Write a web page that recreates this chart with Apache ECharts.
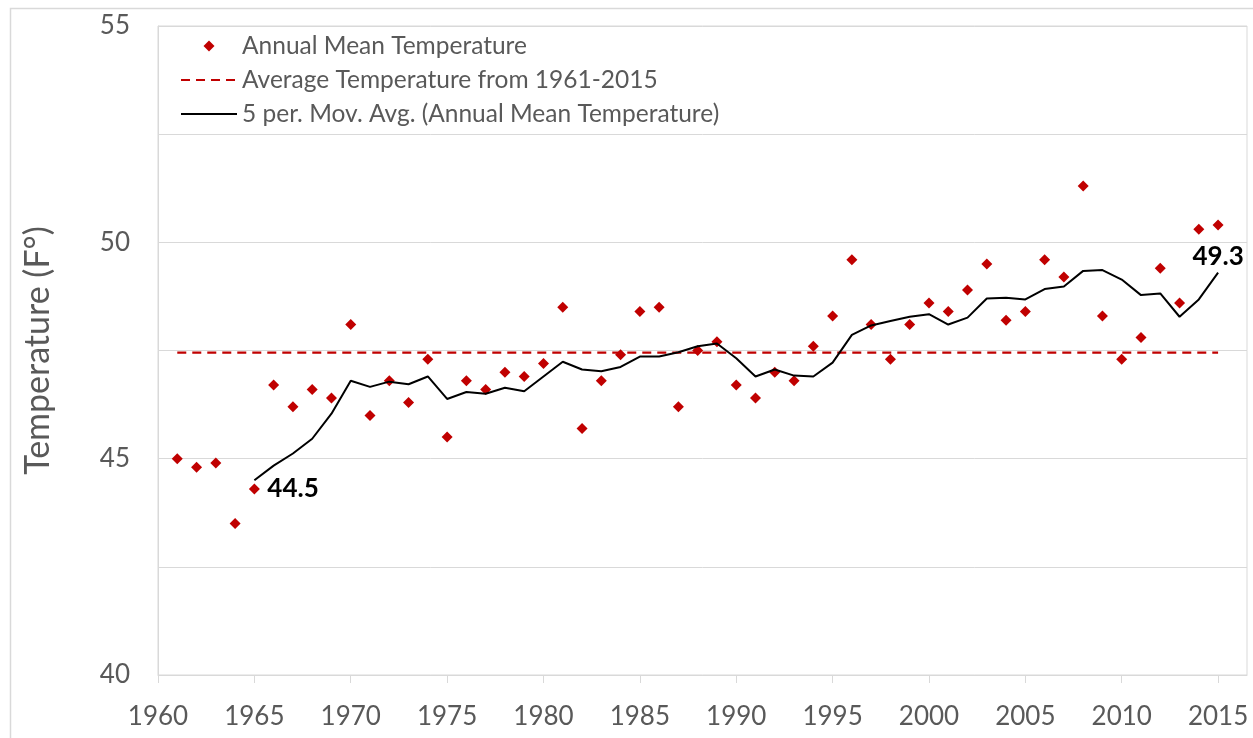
<!DOCTYPE html>
<html>
<head>
<meta charset="utf-8">
<title>Annual Mean Temperature</title>
<script src="https://cdn.jsdelivr.net/npm/echarts@6/dist/echarts.min.js"></script>
<style>
    html, body { margin: 0; padding: 0; background: #fff; }
    #chart { width: 1253px; height: 738px; }
</style>
</head>
<body>
<div id="chart"></div>
<script>
// 年份
const years = [
    1961, 1962, 1963, 1964, 1965, 1966, 1967, 1968, 1969, 1970,
    1971, 1972, 1973, 1974, 1975, 1976, 1977, 1978, 1979, 1980,
    1981, 1982, 1983, 1984, 1985, 1986, 1987, 1988, 1989, 1990,
    1991, 1992, 1993, 1994, 1995, 1996, 1997, 1998, 1999, 2000,
    2001, 2002, 2003, 2004, 2005, 2006, 2007, 2008, 2009, 2010,
    2011, 2012, 2013, 2014, 2015
];

// 年平均气温 (F)
const annualMean = [
    45.0, 44.8, 44.9, 43.5, 44.3, 46.7, 46.2, 46.6, 46.4, 48.1,
    46.0, 46.8, 46.3, 47.3, 45.5, 46.8, 46.6, 47.0, 46.9, 47.2,
    48.5, 45.7, 46.8, 47.4, 48.4, 48.5, 46.2, 47.5, 47.7, 46.7,
    46.4, 47.0, 46.8, 47.6, 48.3, 49.6, 48.1, 47.3, 48.1, 48.6,
    48.4, 48.9, 49.5, 48.2, 48.4, 49.6, 49.2, 51.3, 48.3, 47.3,
    47.8, 49.4, 48.6, 50.3, 50.4
];

// 5年移动平均
const movAvgYears = [
    1965, 1966, 1967, 1968, 1969, 1970, 1971, 1972, 1973, 1974,
    1975, 1976, 1977, 1978, 1979, 1980, 1981, 1982, 1983, 1984,
    1985, 1986, 1987, 1988, 1989, 1990, 1991, 1992, 1993, 1994,
    1995, 1996, 1997, 1998, 1999, 2000, 2001, 2002, 2003, 2004,
    2005, 2006, 2007, 2008, 2009, 2010, 2011, 2012, 2013, 2014,
    2015
];
const movAvg = [
    44.50, 44.84, 45.12, 45.46, 46.04, 46.80, 46.66, 46.78, 46.72, 46.90,
    46.38, 46.54, 46.50, 46.64, 46.56, 46.90, 47.24, 47.06, 47.02, 47.12,
    47.36, 47.36, 47.46, 47.60, 47.66, 47.32, 46.90, 47.06, 46.92, 46.90,
    47.22, 47.86, 48.08, 48.18, 48.28, 48.34, 48.10, 48.26, 48.70, 48.72,
    48.68, 48.92, 48.98, 49.34, 49.36, 49.14, 48.78, 48.82, 48.28, 48.68,
    49.30
];

// 1961-2015 平均值
const avgTemp = 47.45;
const avgSpan = [1961, 2015];

// 刻度
const xTicks = [1960, 1965, 1970, 1975, 1980, 1985, 1990, 1995, 2000, 2005, 2010, 2015];
const yLabels = [40, 45, 50, 55];

const GRAY = '#595959';
const LINE = '#d9d9d9';
const RED = '#c00000';
const FONT = 'Lato, "Open Sans", sans-serif';

const chart = echarts.init(document.getElementById('chart'));

const option = {
    animation: false,
    backgroundColor: '#fff',
    textStyle: { fontFamily: FONT },
    graphic: [{
        type: 'rect',
        silent: true,
        shape: { x: 10.5, y: 8.5, width: 1300, height: 800 },
        style: { fill: 'none', stroke: LINE, lineWidth: 1.5 }
    }],
    grid: {
        left: 158,
        top: 26,
        right: 6,
        bottom: 63,
        show: true,
        borderColor: LINE,
        borderWidth: 1
    },
    legend: {
        orient: 'vertical',
        left: 175,
        top: 24,
        itemWidth: 56,
        itemHeight: 11,
        itemGap: 0,
        textStyle: { color: GRAY, fontSize: 24.5, lineHeight: 34, fontFamily: FONT },
        data: [
            { name: 'Annual Mean Temperature', icon: 'path://M0,-5L5,0L0,5L-5,0Z' },
            { name: 'Average Temperature from 1961-2015', itemStyle: { opacity: 0 } },
            { name: '5 per. Mov. Avg. (Annual Mean Temperature)', itemStyle: { opacity: 0 } }
        ]
    },
    xAxis: {
        type: 'value',
        min: 1960,
        max: 2016.5,
        interval: 5,
        splitLine: { show: false },
        axisLine: { show: true, lineStyle: { color: LINE, width: 1 } },
        axisTick: { show: true, length: 8, customValues: xTicks, lineStyle: { color: LINE } },
        axisLabel: {
            customValues: xTicks,
            color: GRAY,
            fontSize: 26,
            margin: 29,
            formatter: v => String(v)
        }
    },
    yAxis: {
        type: 'value',
        min: 40,
        max: 55,
        interval: 2.5,
        name: 'Temperature (F°)',
        nameLocation: 'middle',
        nameGap: 103,
        nameTextStyle: { color: GRAY, fontSize: 34, fontFamily: FONT },
        axisLine: { show: true, lineStyle: { color: LINE } },
        axisTick: { show: false },
        splitLine: { show: true, lineStyle: { color: LINE, width: 1 } },
        axisLabel: {
            color: GRAY,
            fontSize: 26,
            margin: 28,
            formatter: v => (yLabels.indexOf(v) >= 0 ? String(v) : '')
        }
    },
    series: [
        {
            name: 'Annual Mean Temperature',
            type: 'scatter',
            symbol: 'diamond',
            symbolSize: 11,
            itemStyle: { color: RED, opacity: 1 },
            data: years.map((y, i) => [y, annualMean[i]]),
            z: 3
        },
        {
            name: 'Average Temperature from 1961-2015',
            type: 'line',
            symbol: 'none',
            lineStyle: { color: RED, width: 2.3, type: [9, 6] },
            itemStyle: { color: RED },
            data: avgSpan.map(y => [y, avgTemp]),
            z: 2
        },
        {
            name: '5 per. Mov. Avg. (Annual Mean Temperature)',
            type: 'line',
            symbol: 'none',
            lineStyle: { color: '#000', width: 2 },
            itemStyle: { color: '#000' },
            data: movAvgYears.map((y, i) => [y, movAvg[i]]),
            z: 4,
            markPoint: {
                symbol: 'circle',
                symbolSize: 2,
                itemStyle: { color: 'rgba(0,0,0,0)' },
                label: {
                    show: true,
                    color: '#000',
                    fontSize: 26,
                    fontWeight: 'bold',
                    fontFamily: FONT,
                    formatter: p => p.value.toFixed(1)
                },
                data: [
                    {
                        coord: [movAvgYears[0], movAvg[0]],
                        value: movAvg[0],
                        label: { position: 'right', distance: 12, offset: [0, 8] }
                    },
                    {
                        coord: [movAvgYears[movAvgYears.length - 1], movAvg[movAvg.length - 1]],
                        value: movAvg[movAvg.length - 1],
                        label: { position: 'top', distance: 2 }
                    }
                ]
            }
        }
    ]
};

chart.setOption(option);
window.addEventListener('resize', () => chart.resize());
</script>
</body>
</html>
